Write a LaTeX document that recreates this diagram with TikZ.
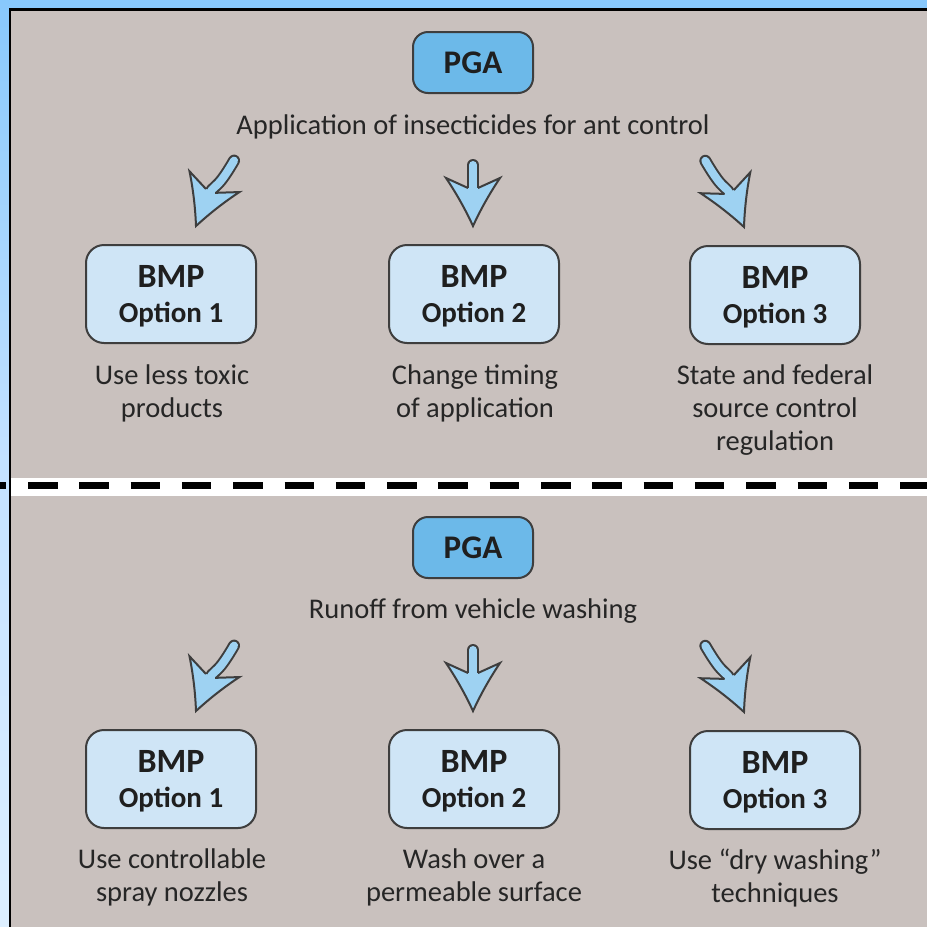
\documentclass[tikz,border=0pt]{standalone}
\usepackage{fontspec}
\setmainfont{Carlito}
\usetikzlibrary{calc}
\definecolor{panel}{HTML}{C9C1BE}
\definecolor{skyA}{HTML}{88C8FC}
\definecolor{skyM}{HTML}{C4E2FF}
\definecolor{skyB}{HTML}{DDEFFF}
\definecolor{pgafill}{HTML}{6CB9E9}
\definecolor{bmpfill}{HTML}{CFE5F6}
\definecolor{arrowfill}{HTML}{9ED2F2}
\definecolor{edge}{HTML}{3E3E3E}
\definecolor{ink}{HTML}{262626}

\tikzset{
  pgabox/.style={draw=edge, line width=2pt, fill=pgafill, rounded corners=15pt,
    minimum width=120pt, minimum height=61pt, inner sep=0pt,
    font=\fontsize{33}{36}\selectfont\bfseries, text=black!88},
  bmpbox/.style={draw=edge, line width=2pt, fill=bmpfill, rounded corners=18pt,
    minimum width=170pt, minimum height=98pt, inner sep=0pt, align=center,
    text depth=0pt, font=\fontsize{34}{37}\selectfont\bfseries, text=black!88},
  subtitle/.style={inner sep=0pt, text=ink, font=\fontsize{28.5}{33}\selectfont, anchor=base},
  caption/.style={inner sep=0pt, text=ink, font=\fontsize{28.5}{33}\selectfont,
    align=center, anchor=north},
  arrowedge/.style={draw=edge, line width=2pt, line join=miter, miter limit=6},
  divider/.style={line width=7pt, dash pattern=on 29.5pt off 21.8pt, dash phase=23.3pt},
}

% Fat arrow: #1 anchor node, #2 offset of the tip, #3 rotation,
% #4 end point of the shaft (local frame, tip at origin pointing down)
\newcommand\bmparrow[4]{%
  \begin{scope}[shift={(#1)}, shift={(#2)}, rotate=#3]
    \draw[edge, line width=12pt, line cap=round]
      (0,-30) .. controls (0,-50) and ($0.45*(#4)$) .. (#4);
    \draw[arrowfill, line width=8pt, line cap=round]
      (0,-30) .. controls (0,-50) and ($0.45*(#4)$) .. (#4);
    \fill[arrowfill] (-5,-38) -- (-27,-48) .. controls (-16.7,-32.7) and (-7.7,-16.7) .. (0,0)
      .. controls (7.7,-16.7) and (16.7,-32.7) .. (27,-48) -- (5,-38) -- cycle;
    \draw[arrowedge] (-5,-38) -- (-27,-48) .. controls (-16.7,-32.7) and (-7.7,-16.7) .. (0,0)
      .. controls (7.7,-16.7) and (16.7,-32.7) .. (27,-48) -- (5,-38);
  \end{scope}}

\begin{document}
\begin{tikzpicture}[x=1pt, y=-1pt]
  \useasboundingbox (0,0) rectangle (927,927);

  % frame: blue margins, black rule, panel
  \fill[skyA] (0,0) rectangle (927,9);
  \shade[top color=skyA, bottom color=skyB, middle color=skyM] (0,0) rectangle (10,927);
  \fill[panel] (10,9) rectangle (927,927);
  \fill[black] (9,8) rectangle (927,10.5);
  \fill[black] (9,8) rectangle (11,927);

  % dashed divider between the two examples
  \fill[white] (11,478) rectangle (927,496);
  \draw[divider] (0,485.5) -- (927,485.5);

  % ---- upper example ----
  \node[pgabox] (pga1) at (473,62.5) {PGA};
  \node[subtitle] (src1) at (473,134) {Application of insecticides for ant control};

  \node[bmpbox] (a1) at (171,294) {BMP\\[-2pt]\fontsize{29}{33}\selectfont Option 1};
  \node[bmpbox] (a2) at (474,294) {BMP\\[-2pt]\fontsize{29}{33}\selectfont Option 2};
  \node[bmpbox] (a3) at (775,295) {BMP\\[-2pt]\fontsize{29}{33}\selectfont Option 3};

  \bmparrow{a1.north}{25,-18}{-22.6}{10,-75}
  \bmparrow{a2.north}{-1,-18}{0}{0,-61}
  \bmparrow{a3.north}{-31,-18}{22.8}{-10,-76}

  \node[caption] (t1) at (172,365) {Use less toxic\\products};
  \node[caption] (t2) at (475,365) {Change timing\\of application};
  \node[caption] (t3) at (775,365) {State and federal\\source control\\regulation};

  % ---- lower example ----
  \node[pgabox] (pga2) at (473,547.5) {PGA};
  \node[subtitle] (src2) at (473,618) {Runoff from vehicle washing};

  \node[bmpbox] (b1) at (171,779) {BMP\\[-2pt]\fontsize{29}{33}\selectfont Option 1};
  \node[bmpbox] (b2) at (474,779) {BMP\\[-2pt]\fontsize{29}{33}\selectfont Option 2};
  \node[bmpbox] (b3) at (775,780) {BMP\\[-2pt]\fontsize{29}{33}\selectfont Option 3};

  \bmparrow{b1.north}{25,-18}{-22.6}{10,-75}
  \bmparrow{b2.north}{-1,-18}{0}{0,-61}
  \bmparrow{b3.north}{-31,-18}{22.8}{-10,-76}

  \node[caption] (u1) at (172,849) {Use controllable\\spray nozzles};
  \node[caption] (u2) at (474,849) {Wash over a\\permeable surface};
  \node[caption] (u3) at (775,849) {Use “dry washing”\\techniques};
\end{tikzpicture}
\end{document}
